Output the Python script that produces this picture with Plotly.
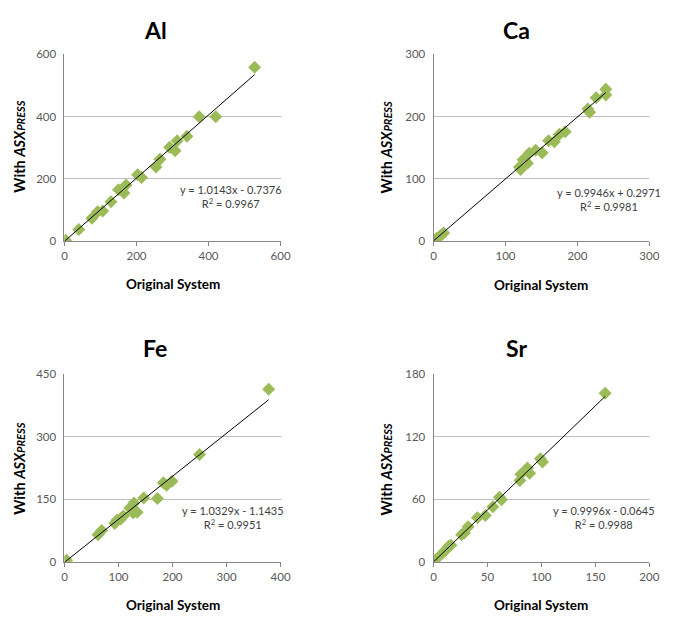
import plotly.graph_objects as go

W, H = 676, 620

# ---------------- data ----------------
al_x = [0, 3, 40, 76, 92, 106, 129, 150, 165, 171, 203, 214, 254, 265, 292, 307, 313, 340, 374, 420, 528]
al_y = [0, 2, 37, 73, 94, 96, 126, 165, 154, 180, 213, 204, 238, 263, 301, 290, 322, 337, 399, 399, 558]

ca_x = [0, 4, 8, 10, 14, 119.5, 121, 124.5, 130.5, 133, 142, 151, 160, 168, 175, 183, 214.5, 217, 226, 239.5, 239.5]
ca_y = [0, 4, 7, 9, 13, 119, 115, 130.6, 125, 141, 146, 141.6, 161, 159.4, 171.5, 175.7, 212, 207, 230, 244, 234.5]

fe_x = [0, 4, 62, 69, 93, 97, 104, 109, 121, 127, 128.5, 130, 134.5, 146.7, 172, 183, 189, 199, 250, 378]
fe_y = [0, 4, 65, 75, 92, 100, 103, 110, 129, 117.6, 141, 121.5, 119, 153, 152, 190, 184, 193.6, 258, 414.7]

sr_x = [0, 2, 8, 11, 14, 16, 26, 28.5, 32, 40.6, 48, 55, 61, 63, 80, 81, 87, 89, 99, 101, 159]
sr_y = [0, 2, 8, 11, 15, 16, 26, 27.6, 33.6, 42.3, 44.5, 53, 62, 59.6, 78, 84, 90, 85, 99, 96, 162]

elements = ["Al", "Ca", "Fe", "Sr"]
slopes = [1.0143, 0.9946, 1.0329, 0.9996]
intercepts = [-0.7376, 0.2971, -1.1435, -0.0645]
r2 = [0.9967, 0.9981, 0.9951, 0.9988]
eq_text = ["y = 1.0143x - 0.7376", "y = 0.9946x + 0.2971", "y = 1.0329x - 1.1435", "y = 0.9996x - 0.0645"]
x_max = [600, 300, 400, 200]
x_dtick = [200, 100, 100, 50]
y_max = [600, 300, 450, 180]
y_dtick = [200, 100, 150, 60]

series = [(al_x, al_y), (ca_x, ca_y), (fe_x, fe_y), (sr_x, sr_y)]

# ---------------- layout geometry (pixels) ----------------
FONT = "Lato, 'Open Sans', sans-serif"
GREEN = "#9BBB59"
TICK_C = "#595959"

# plot areas: (left, right, top, bottom) in pixels
areas = [
    (62.7, 283, 48.3, 239),
    (439, 659, 48.3, 239),
    (62.7, 283, 375.3, 566.7),
    (439, 659, 375.3, 566.7),
]
title_pos = [(155, 24), (524, 23), (155, 348), (524, 348)]
xtitle_pos = [(173, 283), (549, 284), (173, 611), (549, 611)]
ytitle_pos = [(16, 143), (391, 143), (16, 472), (391, 472)]
# (x, y, xanchor)
eq_pos = [(232, 178, "center"), (673, 181, "right"), (235, 506, "center"), (613, 506, "center")]


def px(x):
    return x / W


def py(y):
    return 1 - y / H


fig = go.Figure()
annotations = []

for i, (xs, ys) in enumerate(series):
    n = i + 1
    xa = "x" if n == 1 else f"x{n}"
    ya = "y" if n == 1 else f"y{n}"
    fig.add_trace(go.Scatter(
        x=xs, y=ys, mode="markers", xaxis=xa, yaxis=ya,
        marker=dict(symbol="diamond", size=10, color=GREEN, line=dict(width=0)),
        showlegend=False, hoverinfo="x+y",
    ))
    lx = [min(xs), max(xs)]
    ly = [slopes[i] * v + intercepts[i] for v in lx]
    fig.add_trace(go.Scatter(
        x=lx, y=ly, mode="lines", xaxis=xa, yaxis=ya,
        line=dict(color="black", width=1), showlegend=False, hoverinfo="skip",
    ))

    l, r, t, b = areas[i]
    kx = "xaxis" if n == 1 else f"xaxis{n}"
    ky = "yaxis" if n == 1 else f"yaxis{n}"
    fig.layout[kx] = dict(
        domain=[px(l), px(r)], anchor=ya, range=[0, x_max[i]], dtick=x_dtick[i], tick0=0,
        showgrid=False, zeroline=False, showline=True, linecolor="#868686", linewidth=1,
        ticks="outside", ticklen=4, tickcolor="#868686",
        tickfont=dict(family=FONT, size=11.5, color=TICK_C), fixedrange=True,
    )
    fig.layout[ky] = dict(
        domain=[py(b), py(t)], anchor=xa, range=[0, y_max[i]], dtick=y_dtick[i], tick0=0,
        showgrid=True, gridcolor="#BFBFBF", gridwidth=1, zeroline=False,
        showline=True, linecolor="#868686", linewidth=1, ticks="",
        tickfont=dict(family=FONT, size=11.5, color=TICK_C), ticklabelstandoff=5, fixedrange=True,
    )

    tx, ty = title_pos[i]
    annotations.append(dict(text=f"<b>{elements[i]}</b>", x=px(tx), y=py(ty), xref="paper", yref="paper",
                            showarrow=False, font=dict(family=FONT, size=23, color="black"),
                            xanchor="center", yanchor="middle"))
    xx, xy = xtitle_pos[i]
    annotations.append(dict(text="<b>Original System</b>", x=px(xx), y=py(xy), xref="paper", yref="paper",
                            showarrow=False, font=dict(family=FONT, size=13.5, color="black"),
                            xanchor="center", yanchor="middle"))
    yx, yy = ytitle_pos[i]
    annotations.append(dict(
        text="<b>With <span style='font-style:italic'>ASX</span>"
             "<span style='font-style:italic;font-size:11px'>PRESS</span></b>",
        x=px(yx), y=py(yy), xref="paper", yref="paper", textangle=-90,
        showarrow=False, font=dict(family=FONT, size=14.5, color="black"),
        xanchor="center", yanchor="middle"))
    ex, ey, anc = eq_pos[i]
    annotations.append(dict(text=f"{eq_text[i]}<br>R<sup>2</sup> = {r2[i]:.4f}", x=px(ex), y=py(ey),
                            xref="paper", yref="paper", showarrow=False, align="center",
                            font=dict(family=FONT, size=11, color="#404040"),
                            xanchor=anc, yanchor="top"))

fig.update_layout(
    width=W, height=H, margin=dict(l=0, r=0, t=0, b=0),
    paper_bgcolor="white", plot_bgcolor="white",
    annotations=annotations, showlegend=False,
)

fig.write_html(
    "out.html",
    config={"displayModeBar": False},
    post_script="document.body.style.margin='0';document.body.style.padding='0';"
                "document.documentElement.style.overflow='hidden';",
)
